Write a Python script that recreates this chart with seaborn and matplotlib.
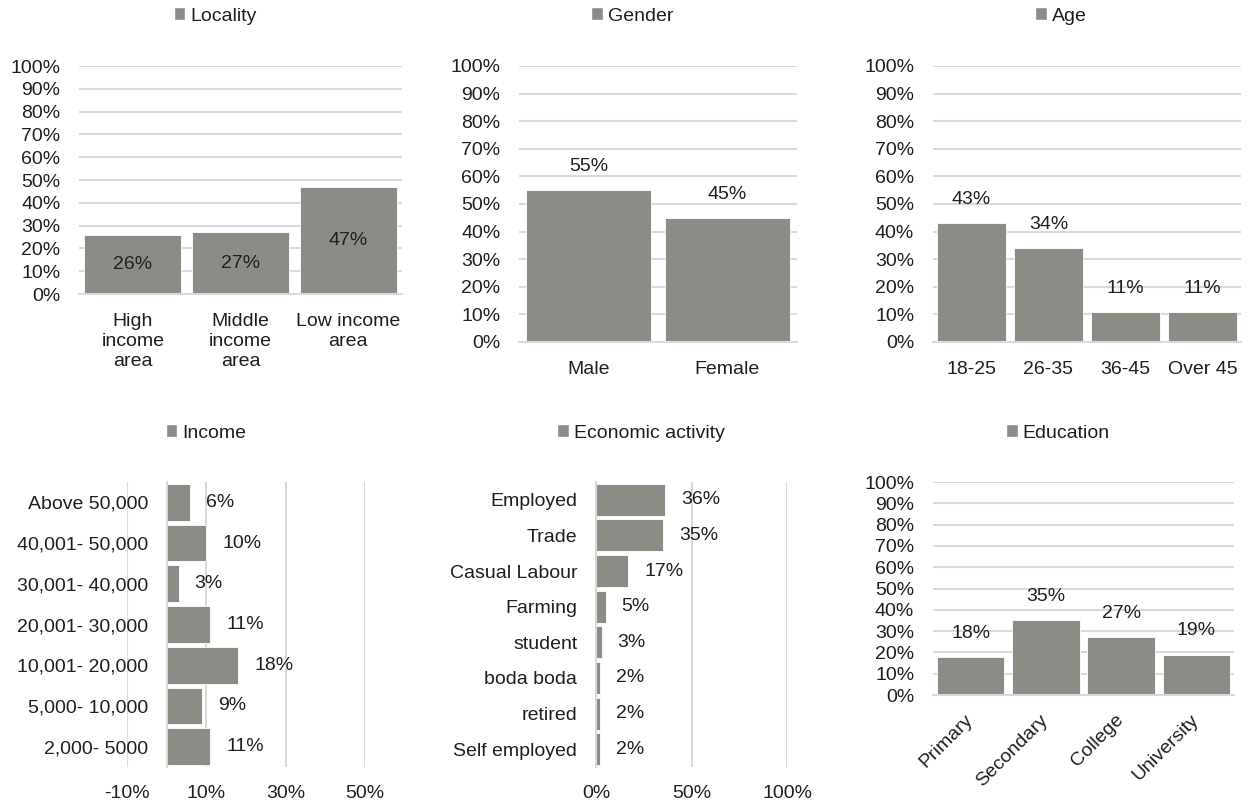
import matplotlib
matplotlib.use('Agg')
import matplotlib.pyplot as plt
import seaborn as sns
import pandas as pd
from matplotlib.patches import Patch
from matplotlib.ticker import PercentFormatter

# survey shares
locality = ['High\nincome\narea', 'Middle\nincome\narea', 'Low income\narea']
locality_pct = [0.26, 0.27, 0.47]
gender = ['Male', 'Female']
gender_pct = [0.55, 0.45]
age = ['18-25', '26-35', '36-45', 'Over 45']
age_pct = [0.43, 0.34, 0.11, 0.11]
income = ['Above 50,000', '40,001- 50,000', '30,001- 40,000', '20,001- 30,000',
          '10,001- 20,000', '5,000- 10,000', '2,000- 5000']
income_pct = [0.06, 0.10, 0.03, 0.11, 0.18, 0.09, 0.11]
activity = ['Employed', 'Trade', 'Casual Labour', 'Farming', 'student',
            'boda boda', 'retired', 'Self employed']
activity_pct = [0.36, 0.35, 0.17, 0.05, 0.03, 0.02, 0.02, 0.02]
education = ['Primary', 'Secondary', 'College', 'University']
education_pct = [0.18, 0.35, 0.27, 0.19]

GRAY = '#8C8C86'
GRID = '#D9D9D9'
TXT = '#1F1F1F'
FS = 14
W, H = 1253, 805

sns.set_theme(style='white')
plt.rcParams['font.family'] = ['Liberation Sans', 'DejaVu Sans']
plt.rcParams['axes.unicode_minus'] = False
plt.rcParams['text.color'] = TXT
plt.rcParams['xtick.color'] = TXT
plt.rcParams['ytick.color'] = TXT

fig = plt.figure(figsize=(W / 100, H / 100), dpi=100)


def rect(x0, x1, y0, y1):
    # pixel box -> figure fraction
    return [x0 / W, 1 - y1 / H, (x1 - x0) / W, (y1 - y0) / H]


def add_legend(title, cx, cy):
    fig.legend(handles=[Patch(facecolor=GRAY)], labels=[title], loc='center',
               bbox_to_anchor=(cx / W, 1 - cy / H), frameon=False,
               handlelength=0.6, handleheight=0.6, handletextpad=0.25,
               fontsize=FS)


def vbar(box, cats, vals, title, legend_xy, inside=False, rot=False):
    ax = fig.add_axes(rect(*box))
    df = pd.DataFrame({'cat': cats, 'pct': vals})
    sns.barplot(data=df, x='cat', y='pct', color=GRAY, saturation=1,
                width=0.9, edgecolor='white', linewidth=0.6, ax=ax)
    ax.set_ylim(0, 1)
    ax.set_yticks([i / 10 for i in range(11)])
    ax.yaxis.set_major_formatter(PercentFormatter(1, decimals=0))
    ax.grid(axis='y', color=GRID, linewidth=1.5)
    ax.set_axisbelow(True)
    for s in ['top', 'right', 'left']:
        ax.spines[s].set_visible(False)
    ax.spines['bottom'].set_color(GRID)
    ax.spines['bottom'].set_linewidth(1.5)
    ax.tick_params(axis='y', length=0, pad=13.5, labelsize=FS)
    ax.tick_params(axis='x', length=0, pad=13.5, labelsize=FS)
    ax.set_xlabel('')
    ax.set_ylabel('')
    for lbl in ax.get_xticklabels():
        lbl.set_linespacing(1.25)
    if rot:
        plt.setp(ax.get_xticklabels(), rotation=45, ha='right', va='center',
                 rotation_mode='anchor')
        ax.tick_params(axis='x', pad=16)
    for p, v in zip(ax.patches, vals):
        xc = p.get_x() + p.get_width() / 2
        if inside:
            ax.annotate(f'{v:.0%}', (xc, v / 2), ha='center', va='center',
                        fontsize=FS, color=TXT)
        else:
            ax.annotate(f'{v:.0%}', (xc, v), xytext=(0, 17),
                        textcoords='offset points', ha='center', va='center',
                        fontsize=FS, color=TXT)
    add_legend(title, *legend_xy)
    return ax


def hbar(box, cats, vals, title, legend_xy, xlim, xticks):
    ax = fig.add_axes(rect(*box))
    df = pd.DataFrame({'cat': cats, 'pct': vals})
    sns.barplot(data=df, x='pct', y='cat', orient='h', color=GRAY,
                saturation=1, width=0.9, edgecolor='white', linewidth=0.6,
                ax=ax)
    ax.set_xlim(*xlim)
    ax.set_xticks(xticks)
    ax.xaxis.set_major_formatter(PercentFormatter(1, decimals=0))
    ax.grid(axis='x', color=GRID, linewidth=1.5)
    ax.set_axisbelow(True)
    for s in ['top', 'right', 'bottom']:
        ax.spines[s].set_visible(False)
    ax.spines['left'].set_position(('data', 0))
    ax.spines['left'].set_color(GRID)
    ax.spines['left'].set_linewidth(1.5)
    ax.tick_params(axis='y', length=0, pad=13.5, labelsize=FS)
    ax.tick_params(axis='x', length=0, pad=13, labelsize=FS)
    ax.set_xlabel('')
    ax.set_ylabel('')
    for p, v in zip(ax.patches, vals):
        yc = p.get_y() + p.get_height() / 2
        ax.annotate(f'{v:.0%}', (v, yc), xytext=(11.5, 0),
                    textcoords='offset points', ha='left', va='center',
                    fontsize=FS, color=TXT)
    add_legend(title, *legend_xy)
    return ax


vbar((79, 402, 66, 294), locality, locality_pct, 'Locality', (215, 16), inside=True)
vbar((519, 797, 66, 342), gender, gender_pct, 'Gender', (632, 16))
vbar((933, 1241, 66, 342), age, age_pct, 'Age', (1061, 16))
hbar((127, 365, 482, 767), income, income_pct, 'Income', (206, 433),
     (-0.1, 0.5), [-0.1, 0.1, 0.3, 0.5])
hbar((596, 787, 482, 767), activity, activity_pct, 'Economic activity', (641, 433),
     (0, 1), [0, 0.5, 1])
vbar((933, 1234, 482, 695), education, education_pct, 'Education', (1058, 433), rot=True)

fig.savefig('out.png', dpi=100)
